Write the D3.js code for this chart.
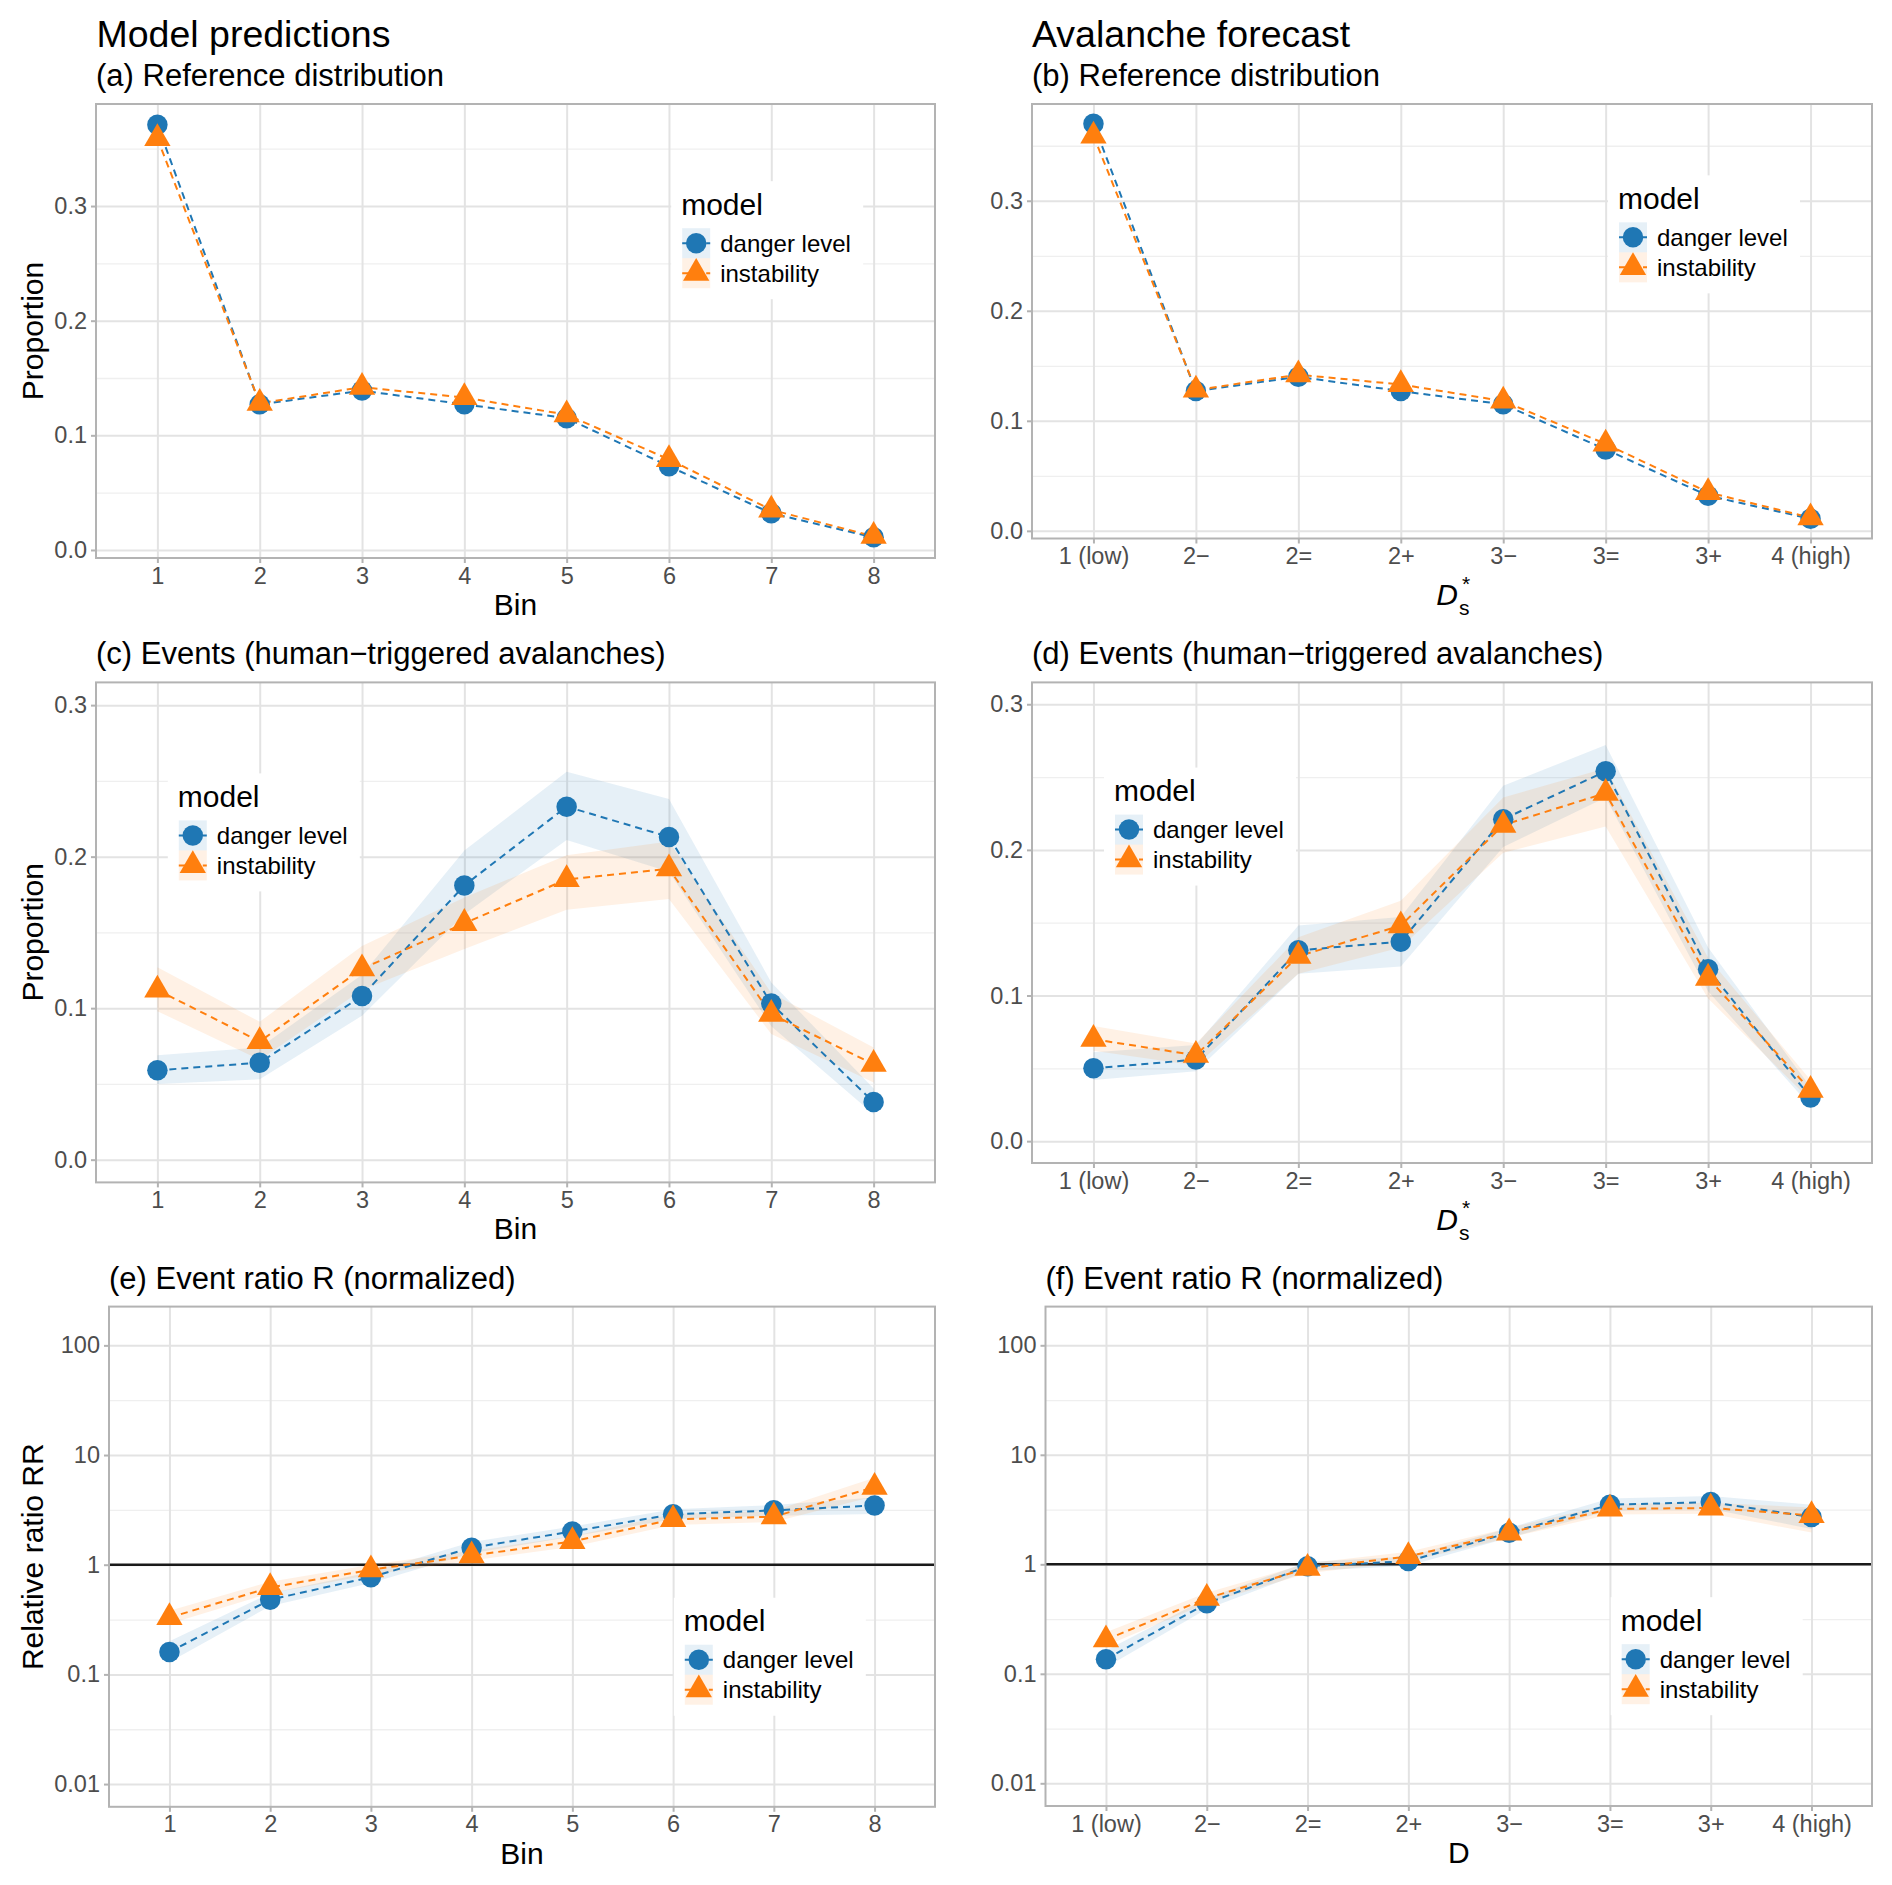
<!DOCTYPE html>
<html lang="en">
<head>
<meta charset="UTF-8">
<title>Model predictions / Avalanche forecast</title>
<style>
  body { margin: 0; background: #fff; }
  svg text { font-family: "Liberation Sans", Arial, Helvetica, sans-serif; }
</style>
</head>
<body>
<svg id="chart" width="1892" height="1885"></svg>
<script src="https://cdn.jsdelivr.net/npm/d3@7"></script>
<script>
// categories and tick labels
const bins = ["1", "2", "3", "4", "5", "6", "7", "8"];
const dangerLevels = ["1 (low)", "2−", "2=", "2+", "3−", "3=", "3+", "4 (high)"];
const propTicks = [0, 0.1, 0.2, 0.3];
const propTickLabels = ["0.0", "0.1", "0.2", "0.3"];
const logTicks = [0.01, 0.1, 1, 10, 100];
const logTickLabels = ["0.01", "0.1", "1", "10", "100"];
const seriesNames = ["danger level", "instability"];

// (a) reference distribution per model bin
const refBinDanger = [0.371, 0.127, 0.139, 0.127, 0.115, 0.073, 0.032, 0.011];
const refBinInstab = [0.359, 0.128, 0.142, 0.133, 0.118, 0.079, 0.035, 0.012];
// (b) reference distribution per sub-level
const refDsDanger = [0.370, 0.127, 0.140, 0.127, 0.115, 0.074, 0.032, 0.011];
const refDsInstab = [0.359, 0.128, 0.142, 0.133, 0.118, 0.079, 0.035, 0.012];

// (c) events per bin
const evtBinDanger   = [0.059, 0.064, 0.108, 0.181, 0.233, 0.213, 0.103, 0.038];
const evtBinDangerLo = [0.050, 0.053, 0.095, 0.162, 0.211, 0.190, 0.088, 0.030];
const evtBinDangerHi = [0.069, 0.074, 0.122, 0.204, 0.256, 0.238, 0.117, 0.047];
const evtBinInstab   = [0.112, 0.078, 0.126, 0.156, 0.185, 0.192, 0.096, 0.063];
const evtBinInstabLo = [0.098, 0.066, 0.112, 0.139, 0.165, 0.172, 0.083, 0.051];
const evtBinInstabHi = [0.127, 0.091, 0.141, 0.173, 0.201, 0.210, 0.110, 0.074];

// (d) events per sub-level
const evtDsDanger   = [0.050, 0.056, 0.131, 0.137, 0.221, 0.254, 0.118, 0.030];
const evtDsDangerLo = [0.042, 0.048, 0.115, 0.120, 0.202, 0.236, 0.103, 0.024];
const evtDsDangerHi = [0.061, 0.066, 0.148, 0.154, 0.244, 0.272, 0.133, 0.037];
const evtDsInstab   = [0.070, 0.059, 0.127, 0.148, 0.217, 0.239, 0.112, 0.035];
const evtDsInstabLo = [0.062, 0.052, 0.115, 0.133, 0.198, 0.216, 0.098, 0.028];
const evtDsInstabHi = [0.079, 0.067, 0.140, 0.165, 0.236, 0.256, 0.126, 0.042];

// (e) relative ratio per bin
const rrBinDanger   = [0.16, 0.48, 0.77, 1.43, 2.01, 2.88, 3.13, 3.47];
const rrBinDangerLo = [0.13, 0.42, 0.68, 1.27, 1.81, 2.60, 2.80, 2.90];
const rrBinDangerHi = [0.20, 0.55, 0.86, 1.61, 2.23, 3.20, 3.50, 4.10];
const rrBinInstab   = [0.33, 0.62, 0.90, 1.21, 1.63, 2.59, 2.74, 5.10];
const rrBinInstabLo = [0.29, 0.55, 0.81, 1.09, 1.46, 2.30, 2.45, 4.20];
const rrBinInstabHi = [0.38, 0.70, 1.00, 1.34, 1.82, 2.90, 3.10, 6.20];

// (f) relative ratio per sub-level
const rrDsDanger   = [0.136, 0.44, 0.96, 1.07, 1.94, 3.50, 3.70, 2.70];
const rrDsDangerLo = [0.115, 0.39, 0.87, 0.97, 1.75, 3.10, 3.20, 2.10];
const rrDsDangerHi = [0.163, 0.49, 1.05, 1.18, 2.15, 4.00, 4.20, 3.50];
const rrDsInstab   = [0.205, 0.49, 0.92, 1.18, 1.94, 3.20, 3.27, 2.80];
const rrDsInstabLo = [0.180, 0.44, 0.83, 1.06, 1.75, 2.85, 2.90, 1.95];
const rrDsInstabHi = [0.240, 0.55, 1.02, 1.30, 2.15, 3.55, 3.65, 3.30];

const BLUE = "#1f77b4", ORANGE = "#ff7f0e";
const svg = d3.select("#chart");

function expand(lo, hi) {
  const pad = (hi - lo) * 0.05;
  return [lo - pad, hi + pad];
}
function expandLog(lo, hi) {
  const [a, b] = expand(Math.log10(lo), Math.log10(hi));
  return [Math.pow(10, a), Math.pow(10, b)];
}
function logMinor(ticks) {
  return ticks.slice(1).map((t, i) => Math.sqrt(t * ticks[i]));
}

function mkSeries(vals, lo, hi) {
  return [
    {name: seriesNames[0], color: BLUE, shape: d3.symbolCircle, size: 330, values: vals[0], lo: lo && lo[0], hi: hi && hi[0]},
    {name: seriesNames[1], color: ORANGE, shape: d3.symbolTriangle, size: 300, values: vals[1], lo: lo && lo[1], hi: hi && hi[1]}
  ];
}

const refExt = d3.extent([...refBinDanger, ...refBinInstab]);
const refExtDs = d3.extent([...refDsDanger, ...refDsInstab]);

const panels = [
  {cats: bins, left: 96, top: 104, right: 935, bottom: 558,
   y: d3.scaleLinear().domain(expand(refExt[0], refExt[1])),
   ticks: propTicks, labels: propTickLabels, minor: [0.05, 0.15, 0.25, 0.35],
   subtitle: "(a) Reference distribution", xTitle: "Bin", yTitle: "Proportion", legend: [0.8, 0.3],
   series: mkSeries([refBinDanger, refBinInstab])},
  {cats: dangerLevels, left: 1032, top: 104, right: 1872, bottom: 538.5,
   y: d3.scaleLinear().domain(expand(refExtDs[0], refExtDs[1])),
   ticks: propTicks, labels: propTickLabels, minor: [0.05, 0.15, 0.25, 0.35],
   subtitle: "(b) Reference distribution", xTitle: "Ds", legend: [0.8, 0.3],
   series: mkSeries([refDsDanger, refDsInstab])},
  {cats: bins, left: 96, top: 682.4, right: 935, bottom: 1182.4,
   y: d3.scaleLinear().domain(expand(0, 0.3)),
   ticks: propTicks, labels: propTickLabels, minor: [0.05, 0.15, 0.25],
   subtitle: "(c) Events (human−triggered avalanches)", xTitle: "Bin", yTitle: "Proportion", legend: [0.2, 0.3],
   series: mkSeries([evtBinDanger, evtBinInstab], [evtBinDangerLo, evtBinInstabLo], [evtBinDangerHi, evtBinInstabHi])},
  {cats: dangerLevels, left: 1032, top: 682.4, right: 1872, bottom: 1163,
   y: d3.scaleLinear().domain(expand(0, 0.3)),
   ticks: propTicks, labels: propTickLabels, minor: [0.05, 0.15, 0.25],
   subtitle: "(d) Events (human−triggered avalanches)", xTitle: "Ds", legend: [0.2, 0.3],
   series: mkSeries([evtDsDanger, evtDsInstab], [evtDsDangerLo, evtDsInstabLo], [evtDsDangerHi, evtDsInstabHi])},
  {cats: bins, left: 109, top: 1306.6, right: 935, bottom: 1806.8,
   y: d3.scaleLog().domain(expandLog(0.01, 140)),
   ticks: logTicks, labels: logTickLabels, minor: logMinor(logTicks), hline: 1,
   subtitle: "(e) Event ratio R (normalized)", xTitle: "Bin", yTitle: "Relative ratio RR", legend: [0.8, 0.7],
   series: mkSeries([rrBinDanger, rrBinInstab], [rrBinDangerLo, rrBinInstabLo], [rrBinDangerHi, rrBinInstabHi])},
  {cats: dangerLevels, left: 1045.5, top: 1306.6, right: 1872, bottom: 1806,
   y: d3.scaleLog().domain(expandLog(0.01, 140)),
   ticks: logTicks, labels: logTickLabels, minor: logMinor(logTicks), hline: 1,
   subtitle: "(f) Event ratio R (normalized)", xTitle: "D", legend: [0.8, 0.7],
   series: mkSeries([rrDsDanger, rrDsInstab], [rrDsDangerLo, rrDsInstabLo], [rrDsDangerHi, rrDsInstabHi])}
];

// column headings
svg.append("text").attr("x", 96.5).attr("y", 46.5).attr("font-size", 37.5).attr("fill", "#000").text("Model predictions");
svg.append("text").attr("x", 1032).attr("y", 46.5).attr("font-size", 37.5).attr("fill", "#000").text("Avalanche forecast");

function drawPanel(p) {
  const g = svg.append("g");
  const w = p.right - p.left, h = p.bottom - p.top;
  const x = d3.scalePoint().domain(p.cats).range([p.left, p.right]).padding(0.6);
  const y = p.y.range([p.bottom, p.top]);

  g.append("text").attr("x", p.left).attr("y", p.top - 18).attr("font-size", 31).attr("fill", "#000").text(p.subtitle);

  // grid
  g.append("g").attr("transform", `translate(${p.left},0)`)
    .call(d3.axisLeft(y).tickValues(p.minor).tickSize(-w).tickFormat(""))
    .call(a => a.select(".domain").remove())
    .selectAll("line").attr("stroke", "#efefef").attr("stroke-width", 1.3);
  g.append("g").attr("transform", `translate(${p.left},0)`)
    .call(d3.axisLeft(y).tickValues(p.ticks).tickSize(-w).tickFormat(""))
    .call(a => a.select(".domain").remove())
    .selectAll("line").attr("stroke", "#e3e3e3").attr("stroke-width", 2);
  g.append("g").attr("transform", `translate(0,${p.bottom})`)
    .call(d3.axisBottom(x).tickSize(-h).tickFormat(""))
    .call(a => a.select(".domain").remove())
    .selectAll("line").attr("stroke", "#e3e3e3").attr("stroke-width", 2);

  if (p.hline !== undefined) {
    g.append("line").attr("x1", p.left).attr("x2", p.right)
      .attr("y1", y(p.hline)).attr("y2", y(p.hline))
      .attr("stroke", "#1a1a1a").attr("stroke-width", 2.4);
  }

  // ribbons
  p.series.forEach(s => {
    if (!s.lo) return;
    const area = d3.area().x((d, i) => x(p.cats[i])).y0((d, i) => y(s.lo[i])).y1((d, i) => y(s.hi[i]));
    g.append("path").attr("d", area(s.values)).attr("fill", s.color).attr("fill-opacity", 0.11);
  });
  // lines
  p.series.forEach(s => {
    const line = d3.line().x((d, i) => x(p.cats[i])).y(d => y(d));
    g.append("path").attr("d", line(s.values)).attr("fill", "none")
      .attr("stroke", s.color).attr("stroke-width", 2).attr("stroke-dasharray", "7,5");
  });
  // points
  p.series.forEach(s => {
    g.selectAll(null).data(s.values).enter().append("path")
      .attr("transform", (d, i) => `translate(${x(p.cats[i])},${y(d)})`)
      .attr("d", d3.symbol().type(s.shape).size(s.size)())
      .attr("fill", s.color);
  });

  // border
  g.append("rect").attr("x", p.left).attr("y", p.top).attr("width", w).attr("height", h)
    .attr("fill", "none").attr("stroke", "#b3b3b3").attr("stroke-width", 2);

  // axes
  const ya = g.append("g").attr("transform", `translate(${p.left},0)`)
    .call(d3.axisLeft(y).tickValues(p.ticks).tickFormat((d, i) => p.labels[i]).tickSize(5).tickPadding(4));
  const xa = g.append("g").attr("transform", `translate(0,${p.bottom})`)
    .call(d3.axisBottom(x).tickSize(5).tickPadding(4));
  [ya, xa].forEach(a => {
    a.select(".domain").remove();
    a.selectAll("line").attr("stroke", "#b3b3b3").attr("stroke-width", 2);
    a.selectAll("text").attr("fill", "#4d4d4d").attr("font-size", 23.5)
      .attr("font-family", "'Liberation Sans', Arial, sans-serif");
  });

  // axis titles
  const cx = (p.left + p.right) / 2;
  if (p.xTitle === "Ds") {
    g.append("text").attr("x", cx + 6).attr("y", p.bottom + 66.5).attr("text-anchor", "end")
      .attr("font-size", 30).attr("font-style", "italic").text("D");
    g.append("text").attr("x", cx + 7).attr("y", p.bottom + 76.5).attr("font-size", 21).text("s");
    g.append("text").attr("x", cx + 10).attr("y", p.bottom + 52).attr("font-size", 21).text("*");
  } else {
    g.append("text").attr("x", cx).attr("y", p.bottom + 57).attr("text-anchor", "middle")
      .attr("font-size", 30).text(p.xTitle);
  }
  if (p.yTitle) {
    g.append("text").attr("transform", `translate(43,${(p.top + p.bottom) / 2}) rotate(-90)`)
      .attr("text-anchor", "middle").attr("font-size", 30).text(p.yTitle);
  }

  // legend
  const bw = 192, bh = 118;
  const lx = p.left + p.legend[0] * w - bw / 2, ly = p.top + p.legend[1] * h - bh / 2;
  const lg = g.append("g");
  lg.append("rect").attr("x", lx).attr("y", ly).attr("width", bw).attr("height", bh).attr("fill", "#fff");
  lg.append("text").attr("x", lx + 10).attr("y", ly + 33.5).attr("font-size", 30).text("model");
  p.series.forEach((s, i) => {
    const ky = ly + 47 + i * 30, kc = ky + 15;
    lg.append("rect").attr("x", lx + 11).attr("y", ky).attr("width", 28).attr("height", 30)
      .attr("fill", s.color).attr("fill-opacity", 0.11);
    lg.append("line").attr("x1", lx + 11).attr("x2", lx + 39).attr("y1", kc).attr("y2", kc)
      .attr("stroke", s.color).attr("stroke-width", 2).attr("stroke-dasharray", "7,5");
    lg.append("path").attr("transform", `translate(${lx + 25},${kc})`)
      .attr("d", d3.symbol().type(s.shape).size(s.size)()).attr("fill", s.color);
    lg.append("text").attr("x", lx + 49).attr("y", kc).attr("dy", "0.35em")
      .attr("font-size", 24).text(s.name);
  });
}

panels.forEach(drawPanel);
</script>
</body>
</html>
